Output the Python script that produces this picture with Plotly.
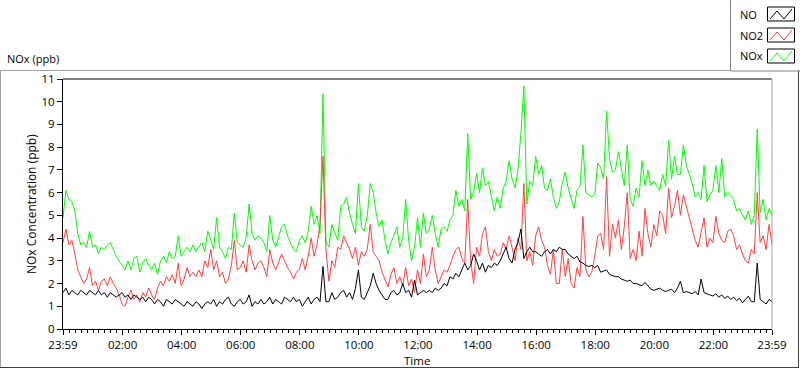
import pandas as pd
import plotly.graph_objects as go

# ---- data (6-minute samples, 23:59 -> 23:59) ----
start_time = "2024-01-01 23:59"
step_minutes = 6

nox = [4.9,6.1,5.7,5.6,5.2,4.2,3.7,3.8,3.6,4.3,
       3.6,3.7,3.3,3.6,3.5,3.7,3.8,3.5,3.2,3.0,
       2.8,2.6,3.0,2.6,3.1,3.2,2.5,2.9,3.1,2.8,
       2.6,2.9,2.4,3.0,3.2,2.9,3.4,3.1,3.2,4.1,
       3.2,3.4,3.6,3.4,3.7,3.4,3.6,3.8,3.4,4.3,
       3.9,3.5,4.9,3.6,3.4,3.1,3.6,3.5,5.1,3.8,
       3.7,3.6,4.0,5.5,4.2,3.9,4.1,4.0,3.8,3.4,
       5.0,3.9,3.6,4.1,4.5,4.6,4.1,3.8,3.5,3.4,
       3.9,4.1,3.8,4.3,5.4,4.6,5.0,4.2,10.35,3.9,
       3.6,4.6,4.2,3.9,5.4,5.5,5.8,5.1,4.6,4.2,
       6.4,4.5,4.3,5.0,6.4,6.0,5.1,4.5,4.8,3.9,
       3.3,3.8,4.1,4.5,3.6,4.0,5.7,3.9,3.0,3.6,
       4.9,3.6,5.1,4.2,4.4,5.0,4.2,3.6,4.4,4.5,
       4.3,4.8,5.0,6.1,5.4,5.7,5.2,8.6,5.7,6.0,
       6.85,6.0,7.1,6.3,6.5,5.8,5.2,5.8,5.3,6.2,
       6.5,7.4,6.6,6.2,7.0,8.6,10.7,5.5,6.5,6.3,
       7.6,6.8,7.2,6.2,6.1,6.6,5.8,5.3,5.6,6.4,
       6.9,6.2,5.8,5.3,6.1,6.3,8.1,6.0,5.9,5.8,
       5.9,7.3,7.1,6.6,9.6,7.5,6.9,7.0,7.8,7.0,
       6.3,8.1,5.7,5.4,6.2,5.8,7.4,6.3,7.0,6.3,
       6.5,6.3,6.1,6.8,6.3,8.3,6.6,7.6,6.8,6.8,
       8.1,7.2,6.8,6.4,5.8,6.0,5.7,7.2,5.6,5.9,
       6.1,7.2,6.0,7.5,5.8,6.0,5.9,5.7,5.2,5.3,
       5.0,4.8,5.2,4.6,5.0,8.8,5.1,5.7,4.8,5.3,5.0]

no2 = [3.8,4.4,3.7,3.9,3.3,2.6,2.3,2.0,2.2,2.7,
       1.9,2.1,1.7,2.1,2.2,1.9,2.3,2.0,1.8,1.5,
       1.1,1.0,1.4,1.7,1.3,1.5,1.2,1.6,1.4,1.8,
       1.5,1.3,1.8,2.1,1.9,2.3,2.1,2.4,2.0,2.9,
       1.9,2.2,2.7,2.3,2.5,2.3,2.6,2.3,3.0,2.7,
       3.5,2.6,3.0,2.3,2.5,2.0,2.2,2.8,3.9,2.6,
       2.7,3.0,2.5,3.7,3.0,2.6,2.9,3.0,2.7,2.3,
       3.5,2.9,2.6,3.0,3.3,3.0,2.7,2.5,2.2,2.5,
       2.6,3.1,2.6,3.2,4.0,3.2,3.7,4.6,7.6,3.5,
       2.1,3.0,2.7,3.6,3.5,4.1,3.8,3.5,3.1,3.6,
       2.8,3.4,3.2,3.5,4.6,3.4,3.2,3.0,2.5,2.2,
       1.85,2.4,2.7,2.0,2.3,1.9,2.7,1.9,2.2,1.6,
       2.6,2.0,3.3,2.3,2.6,3.6,2.6,2.0,2.3,2.6,
       2.5,2.8,3.2,3.5,3.6,3.1,2.9,5.7,3.0,2.0,
       3.6,3.2,4.2,4.5,3.4,3.0,3.5,3.2,3.3,3.8,
       3.5,4.1,3.6,3.0,4.0,3.5,6.4,3.0,3.4,2.8,
       4.1,4.5,3.9,3.6,2.8,2.4,3.5,2.0,2.0,3.5,
       2.3,3.1,2.0,1.8,2.7,2.3,4.95,2.6,2.3,2.5,
       3.2,4.1,4.2,3.5,6.7,3.2,4.6,4.0,4.8,3.5,
       4.5,6.0,3.1,3.5,3.0,4.3,3.2,5.3,4.2,3.6,
       4.6,4.1,5.2,5.0,4.2,6.2,4.9,5.4,6.1,5.0,
       5.9,5.4,4.8,4.3,3.9,3.6,4.3,4.9,3.6,4.0,
       3.8,4.95,4.2,3.9,3.8,4.3,4.4,4.1,3.5,3.7,
       3.3,3.0,2.9,3.5,3.3,6.0,3.8,4.1,3.5,4.6,3.7]

no = [1.6,1.8,1.5,1.7,1.6,1.5,1.7,1.6,1.5,1.7,
      1.6,1.5,1.7,1.5,1.6,1.4,1.6,1.5,1.4,1.5,
      1.6,1.4,1.5,1.3,1.5,1.4,1.3,1.4,1.2,1.4,
      1.3,1.1,1.3,1.2,1.0,1.3,1.2,1.1,1.3,1.2,
      1.1,1.0,1.2,1.1,1.0,1.2,1.1,0.9,1.1,1.2,
      1.1,1.3,1.0,1.2,1.1,1.3,1.4,1.1,1.0,1.2,
      1.3,1.1,1.2,1.5,1.0,1.2,1.1,1.3,1.1,1.2,
      1.4,1.1,1.3,1.2,1.1,1.4,1.3,1.2,1.4,1.2,
      1.3,1.0,1.2,1.4,1.1,1.3,1.4,1.2,2.75,1.2,
      1.2,1.6,1.3,1.4,1.6,1.7,1.4,1.6,1.3,1.8,
      2.6,1.4,1.3,1.6,1.9,2.45,2.0,1.7,1.5,1.3,
      1.3,1.6,1.7,1.5,1.6,2.0,1.6,1.7,1.4,2.15,
      1.5,1.6,1.7,1.6,1.7,1.6,1.8,1.7,1.8,2.0,
      1.9,2.3,2.2,2.45,2.3,2.6,2.9,2.6,2.8,3.3,
      3.0,2.6,2.9,2.5,2.8,2.7,2.9,2.8,3.0,3.3,
      3.6,3.1,2.9,3.5,3.8,4.4,3.1,3.4,3.6,3.4,
      3.4,3.3,3.2,3.4,3.5,3.3,3.5,3.4,3.6,3.5,
      3.5,3.3,3.2,3.1,3.2,2.95,2.9,2.8,2.75,2.8,
      2.7,2.8,2.5,2.55,2.6,2.4,2.35,2.3,2.3,2.2,
      2.15,2.1,2.15,2.0,2.0,1.95,1.9,2.05,1.9,1.75,
      1.7,1.75,1.8,1.7,1.65,1.7,1.75,1.6,1.8,2.1,
      1.6,1.65,1.6,1.55,1.65,1.5,2.2,1.6,1.55,1.5,
      1.45,1.55,1.4,1.5,1.35,1.45,1.3,1.4,1.25,1.35,
      1.15,1.3,1.45,1.2,1.2,2.9,1.3,1.2,1.1,1.3,1.2]

tick_times = ["2024-01-01 23:59", "2024-01-02 02:00", "2024-01-02 04:00",
              "2024-01-02 06:00", "2024-01-02 08:00", "2024-01-02 10:00",
              "2024-01-02 12:00", "2024-01-02 14:00", "2024-01-02 16:00",
              "2024-01-02 18:00", "2024-01-02 20:00", "2024-01-02 22:00",
              "2024-01-02 23:59"]
tick_labels = ["23:59", "02:00", "04:00", "06:00", "08:00", "10:00", "12:00",
               "14:00", "16:00", "18:00", "20:00", "22:00", "23:59"]
y_ticks = list(range(0, 12))

series_names = ["NO", "NO2", "NOx"]
series_colors = ["#000000", "#FF4040", "#00FF00"]

times = pd.date_range(start=start_time, periods=len(nox), freq=f"{step_minutes}min")

W, H = 800, 369
L, R, T, B = 63, 28, 79, 40
PW, PH = W - L - R, H - T - B
FONT = "Open Sans"

def px(x):
    return (x - L) / PW

def py(y):
    return (H - B - y) / PH

fig = go.Figure()
for vals, name, col in [(nox, "NOx", series_colors[2]),
                        (no2, "NO2", series_colors[1]),
                        (no, "NO", series_colors[0])]:
    fig.add_trace(go.Scatter(x=times, y=vals, mode="lines", name=name,
                             line=dict(color=col, width=1), showlegend=False,
                             hoverinfo="skip"))

fig.update_layout(
    width=W, height=H,
    margin=dict(l=L, r=R, t=T, b=B),
    paper_bgcolor="white", plot_bgcolor="white",
    font=dict(family=FONT, size=11.5, color="#000000"),
    showlegend=False,
)
fig.update_xaxes(
    range=[times[0], times[-1]],
    tickvals=tick_times, ticktext=tick_labels,
    ticks="outside", ticklen=5, tickcolor="black",
    showline=True, linecolor="black", linewidth=1,
    showgrid=False, zeroline=False,
    tickfont=dict(family=FONT, size=11.5),
    minor=dict(ticks="outside", ticklen=3, tickcolor="black",
               dtick=12 * 60 * 1000, tick0="2024-01-02 00:00", showgrid=False),
)
fig.update_yaxes(
    range=[0, 11], tickvals=y_ticks,
    ticks="outside", ticklen=5, tickcolor="black",
    showline=True, linecolor="black", linewidth=1,
    showgrid=False, zeroline=False,
    tickfont=dict(family=FONT, size=11.5),
)

shapes = []
def line(x0, y0, x1, y1, color, w=1):
    shapes.append(dict(type="line", xref="paper", yref="paper",
                       x0=px(x0), y0=py(y0), x1=px(x1), y1=py(y1),
                       line=dict(color=color, width=w)))

# plot area top / right borders
line(L, T, L + PW, T, "black")
line(L + PW, T, L + PW, H - B, "#A0A0A0")
# outer frame
line(0, 70.5, 730, 70.5, "#A0A0A0")
line(0.5, 70.5, 0.5, 368, "#A0A0A0")
line(0, 367.5, 798.5, 367.5, "#404040")
line(798.5, 70.5, 798.5, 368, "#404040")
# legend box
line(730.5, 0, 730.5, 71, "#808080")
line(730.5, 71, 800, 71, "#808080")

annotations = []
legend_rows = [14, 35, 56]
for name, col, yc in zip(series_names, series_colors, legend_rows):
    annotations.append(dict(text=name, xref="paper", yref="paper",
                            x=px(738), y=py(yc), xanchor="left", yanchor="middle",
                            showarrow=False, font=dict(family=FONT, size=11, color="black")))
    shapes.append(dict(type="rect", xref="paper", yref="paper",
                       x0=px(767.5), x1=px(794.5), y0=py(yc - 7), y1=py(yc + 7),
                       line=dict(color="black", width=1), fillcolor="white"))
    pts = [(770, yc + 5), (777, yc - 3), (784, yc + 5), (792, yc - 5)]
    path = "M " + " L ".join(f"{px(a)},{py(b)}" for a, b in pts)
    shapes.append(dict(type="path", xref="paper", yref="paper", path=path,
                       line=dict(color=col, width=1)))

annotations.append(dict(text="NOx (ppb)", xref="paper", yref="paper",
                        x=px(5), y=py(59), xanchor="left", yanchor="middle",
                        showarrow=False, font=dict(family=FONT, size=11)))
annotations.append(dict(text="Time", xref="paper", yref="paper",
                        x=px(417), y=py(360), xanchor="center", yanchor="middle",
                        showarrow=False, font=dict(family=FONT, size=11.5)))
annotations.append(dict(text="NOx Concentration (ppb)", xref="paper", yref="paper",
                        x=px(31), y=py(204), xanchor="center", yanchor="middle",
                        textangle=-90, showarrow=False, font=dict(family=FONT, size=12)))

fig.update_layout(shapes=shapes, annotations=annotations)
fig.write_html("out.html",
               config={"displayModeBar": False, "staticPlot": True},
               post_script="document.body.style.margin='0';document.body.style.padding='0';document.body.style.overflow='hidden';")
